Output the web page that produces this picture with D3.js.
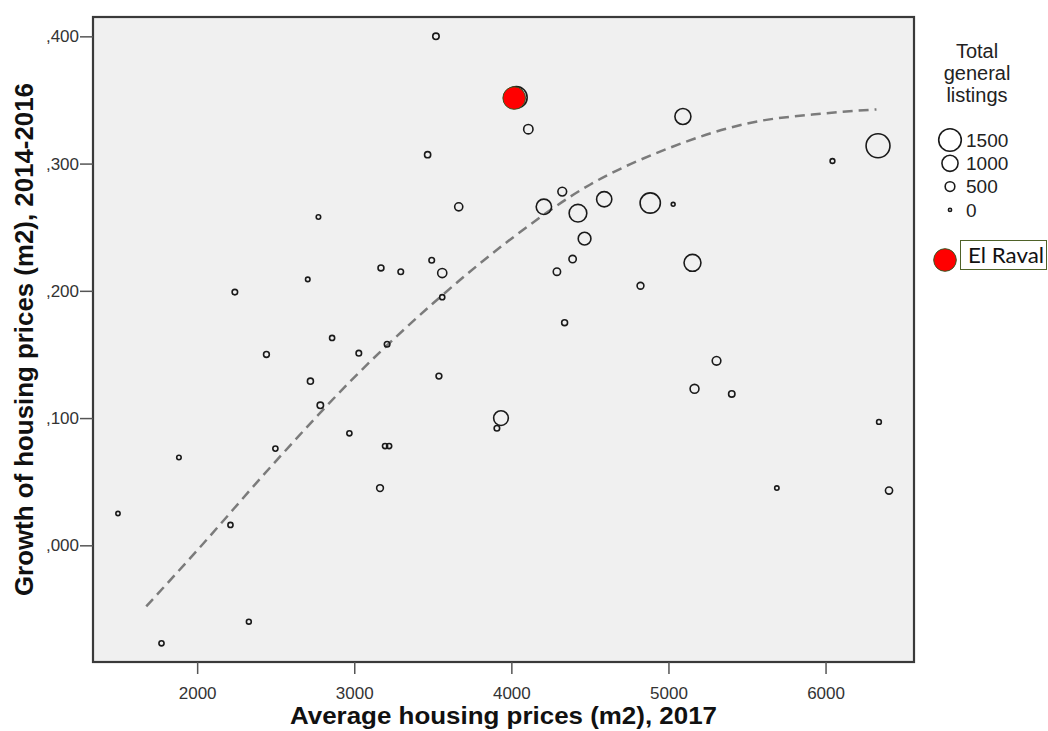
<!DOCTYPE html>
<html>
<head>
<meta charset="utf-8">
<script src="https://cdn.jsdelivr.net/npm/d3@7"></script>
<style>
  body { margin: 0; background: #ffffff; }
  svg { display: block; }
</style>
</head>
<body>
<svg id="chart" width="1048" height="731"></svg>
<script>
// Average price per m2 (2017), price growth 2014-2016 and total listings per neighbourhood
const prices = [3520,3467,3665,2772,3493,3560,3170,3296,2704,2240,
                3560,2859,2441,3029,3209,2721,3539,2784,3934,3908,
                2969,3196,3222,1884,2498,3164,1496,2212,2329,1773,
                4032,4108,5092,6334,6044,4324,4207,4424,4591,4884,
                5030,4466,4390,4290,5153,4822,4339,5306,5166,5403,
                6340,5690,6404];
const growth = [0.400,0.307,0.266,0.258,0.224,0.214,0.218,0.215,0.209,0.199,
                0.195,0.163,0.150,0.151,0.158,0.129,0.133,0.110,0.100,0.092,
                0.088,0.078,0.078,0.069,0.076,0.045,0.025,0.016,-0.060,-0.077,
                0.352,0.327,0.337,0.314,0.302,0.278,0.266,0.261,0.272,0.269,
                0.268,0.241,0.225,0.215,0.222,0.204,0.175,0.145,0.123,0.119,
                0.097,0.045,0.043];
const listings = [250,230,380,100,180,460,210,180,100,180,
                  150,150,200,180,180,220,200,250,890,180,
                  150,150,150,100,150,275,80,150,130,150,
                  1420,475,990,1600,120,430,940,1120,930,1320,
                  50,735,320,320,1060,280,210,420,440,245,
                  120,90,305];

// Highlighted neighbourhood
const highlightLabel = ["El Raval"];
const highlightPrice = [4018];
const highlightGrowth = [0.3515];

// Fit line through the cloud (sampled)
const fitPrice  = [1676, 2000, 2500, 3000, 3500, 4000, 4500, 5000, 5500, 6000, 6324];
const fitGrowth = [-0.048, -0.004, 0.066, 0.132, 0.190, 0.241, 0.2834, 0.312, 0.3315, 0.3395, 0.3426];

// Axis ticks and size legend
const xTicks = [2000, 3000, 4000, 5000, 6000];
const yTicks = [0, 0.1, 0.2, 0.3, 0.4];
const sizeLegend = [1500, 1000, 500, 0];
const sizeTitle = ["Total", "general", "listings"];

const xTitle = "Average housing prices (m2), 2017";
const yTitle = "Growth of housing prices (m2), 2014-2016";

const svg = d3.select("#chart");
const plot = { left: 93, right: 914, top: 17, bottom: 662 };

const x = d3.scaleLinear().domain([1337, 6563]).range([plot.left, plot.right]);
const y = d3.scaleLinear().domain([-0.0917, 0.4152]).range([plot.bottom, plot.top]);
const r = d3.scaleLinear().domain([0, 1500]).range([1.6, 11.3]);

const fmtY = v => d3.format(".3f")(v).replace(/^0/, "").replace(/^-0/, "-").replace(".", ",");

// Plot background
svg.append("rect")
  .attr("x", plot.left).attr("y", plot.top)
  .attr("width", plot.right - plot.left).attr("height", plot.bottom - plot.top)
  .attr("fill", "#f0f0f0");

// Fit line
const fitData = fitPrice.map((p, i) => [p, fitGrowth[i]]);
svg.append("path")
  .datum(fitData)
  .attr("fill", "none")
  .attr("stroke", "#7b7b7b")
  .attr("stroke-width", 2.5)
  .attr("stroke-dasharray", "10,6")
  .attr("d", d3.line().x(d => x(d[0])).y(d => y(d[1])).curve(d3.curveMonotoneX));

// Bubbles
const pts = prices.map((p, i) => ({ p, g: growth[i], n: listings[i] }));
svg.append("g")
  .selectAll("circle")
  .data(pts)
  .join("circle")
  .attr("cx", d => x(d.p))
  .attr("cy", d => y(d.g))
  .attr("r", d => r(d.n))
  .attr("fill", "none")
  .attr("stroke", "#1a1a1a")
  .attr("stroke-width", 1.6);

// Highlight marker
svg.append("g")
  .selectAll("circle")
  .data(highlightPrice.map((p, i) => ({ p, g: highlightGrowth[i] })))
  .join("circle")
  .attr("cx", d => x(d.p))
  .attr("cy", d => y(d.g))
  .attr("r", 11.3)
  .attr("fill", "#ff0000")
  .attr("stroke", "#385723")
  .attr("stroke-width", 1);

// Frame
svg.append("rect")
  .attr("x", plot.left).attr("y", plot.top)
  .attr("width", plot.right - plot.left).attr("height", plot.bottom - plot.top)
  .attr("fill", "none")
  .attr("stroke", "#3a3a3a")
  .attr("stroke-width", 2.2);

// Axes
const xAxis = svg.append("g")
  .attr("transform", `translate(0,${plot.bottom})`)
  .call(d3.axisBottom(x).tickValues(xTicks).tickSize(12).tickPadding(13).tickFormat(d3.format("d")));
const yAxis = svg.append("g")
  .attr("transform", `translate(${plot.left},0)`)
  .call(d3.axisLeft(y).tickValues(yTicks).tickSize(13).tickPadding(1).tickFormat(fmtY));

[xAxis, yAxis].forEach(a => {
  a.select(".domain").remove();
  a.selectAll(".tick line").attr("stroke", "#555").attr("stroke-width", 1.5);
  a.selectAll(".tick text")
    .attr("fill", "#333")
    .style("font-family", "'Liberation Sans', Arial, sans-serif")
    .style("font-size", "17px");
});

// Axis titles
svg.append("text")
  .attr("x", (plot.left + plot.right) / 2)
  .attr("y", 724)
  .attr("text-anchor", "middle")
  .attr("textLength", 427)
  .attr("lengthAdjust", "spacingAndGlyphs")
  .style("font-family", "'Liberation Sans', Arial, sans-serif")
  .style("font-weight", "bold")
  .style("font-size", "24px")
  .attr("fill", "#111")
  .text(xTitle);

svg.append("text")
  .attr("transform", `translate(33,${(plot.top + plot.bottom) / 2}) rotate(-90)`)
  .attr("text-anchor", "middle")
  .attr("textLength", 513)
  .attr("lengthAdjust", "spacingAndGlyphs")
  .style("font-family", "'Liberation Sans', Arial, sans-serif")
  .style("font-weight", "bold")
  .style("font-size", "26px")
  .attr("fill", "#111")
  .text(yTitle);

// Size legend
const legend = svg.append("g").style("font-family", "'Liberation Sans', Arial, sans-serif").attr("fill", "#222");
legend.selectAll("text.title")
  .data(sizeTitle)
  .join("text")
  .attr("class", "title")
  .attr("x", 977)
  .attr("y", (d, i) => 58 + i * 22)
  .attr("text-anchor", "middle")
  .style("font-size", "20px")
  .text(d => d);

const rows = legend.selectAll("g.row")
  .data(sizeLegend)
  .join("g")
  .attr("class", "row")
  .attr("transform", (d, i) => `translate(950,${140 + i * 23.3})`);
rows.append("circle")
  .attr("r", d => r(d))
  .attr("fill", "none")
  .attr("stroke", "#1a1a1a")
  .attr("stroke-width", 1.6);
rows.append("text")
  .attr("x", 16)
  .attr("dy", "0.36em")
  .style("font-size", "19px")
  .text(d => d);

// Highlight legend
const hl = svg.append("g");
hl.append("circle")
  .attr("cx", 945).attr("cy", 260).attr("r", 11.3)
  .attr("fill", "#ff0000").attr("stroke", "#385723").attr("stroke-width", 1);
hl.append("rect")
  .attr("x", 960.5).attr("y", 240.5).attr("width", 86).attr("height", 29)
  .attr("fill", "#ffffff").attr("stroke", "#4f6228").attr("stroke-width", 1);
hl.selectAll("text")
  .data(highlightLabel)
  .join("text")
  .attr("x", 968).attr("y", 263)
  .attr("textLength", 76)
  .attr("lengthAdjust", "spacingAndGlyphs")
  .style("font-family", "Lato, 'Open Sans', sans-serif")
  .style("font-size", "22px")
  .attr("fill", "#111")
  .text(d => d);
</script>
</body>
</html>
